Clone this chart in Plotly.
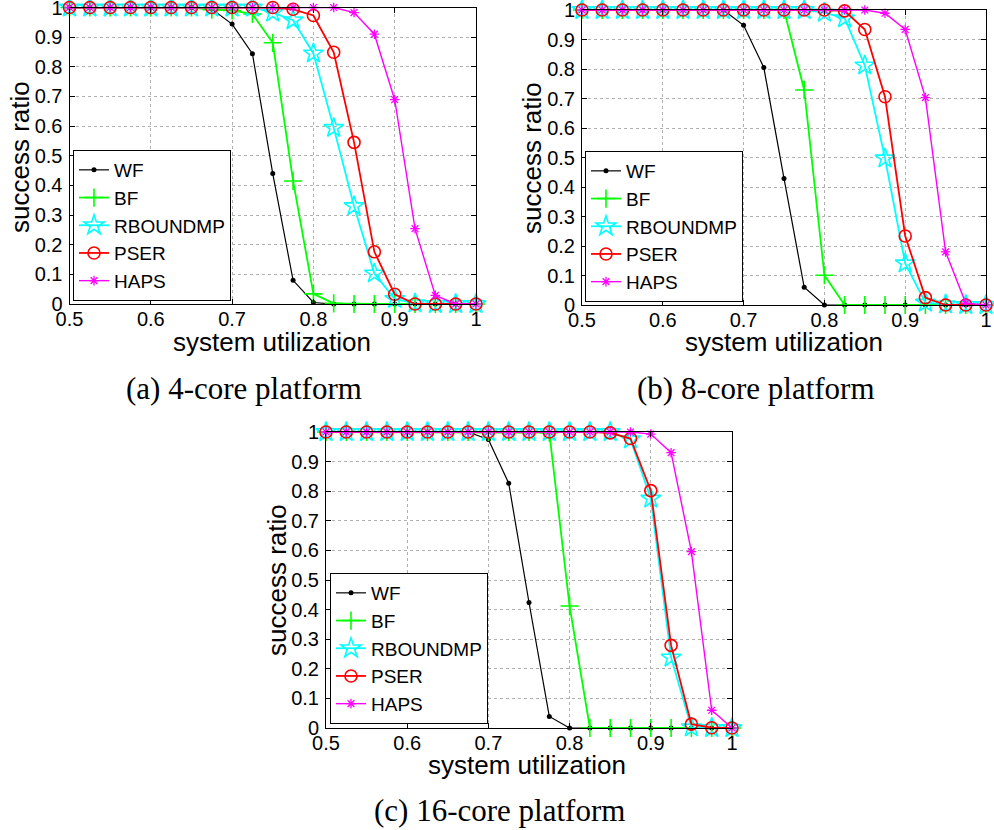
import plotly.graph_objects as go

W, H = 994, 830

utilization = [0.5, 0.525, 0.55, 0.575, 0.6, 0.625, 0.65, 0.675, 0.7, 0.725,
               0.75, 0.775, 0.8, 0.825, 0.85, 0.875, 0.9, 0.925, 0.95, 0.975, 1.0]

series_names = ["WF", "BF", "RBOUNDMP", "PSER", "HAPS"]

# (a) 4-core platform
wf_4 = [1, 1, 1, 1, 1, 1, 1, 0.995, 0.944, 0.844, 0.440, 0.080, 0.005, 0, 0, 0, 0, 0, 0, 0, 0]
bf_4 = [1, 1, 1, 1, 1, 1, 1, 0.993, 0.99, 0.978, 0.881, 0.415, 0.034, 0.002, 0, 0, 0, 0, 0, 0, 0]
rb_4 = [1, 1, 1, 1, 1, 1, 1, 1, 1, 1, 0.983, 0.957, 0.845, 0.594, 0.330, 0.103, 0.017, 0.002, 0, 0, 0]
ps_4 = [1, 1, 1, 1, 1, 1, 1, 1, 1, 1, 1, 0.994, 0.973, 0.849, 0.545, 0.176, 0.033, 0, 0, 0, 0]
ha_4 = [1, 1, 1, 1, 1, 1, 1, 1, 1, 1, 1, 1, 1, 1, 0.983, 0.910, 0.689, 0.254, 0.029, 0, 0]

# (b) 8-core platform
wf_8 = [1, 1, 1, 1, 1, 1, 1, 1, 0.948, 0.805, 0.429, 0.060, 0, 0, 0, 0, 0, 0, 0, 0, 0]
bf_8 = [1, 1, 1, 1, 1, 1, 1, 1, 1, 1, 1, 0.729, 0.101, 0, 0, 0, 0, 0, 0, 0, 0]
rb_8 = [1, 1, 1, 1, 1, 1, 1, 1, 1, 1, 1, 1, 0.991, 0.972, 0.812, 0.497, 0.141, 0.008, 0.002, 0, 0]
ps_8 = [1, 1, 1, 1, 1, 1, 1, 1, 1, 1, 1, 1, 1, 0.997, 0.934, 0.706, 0.234, 0.025, 0, 0, 0]
ha_8 = [1, 1, 1, 1, 1, 1, 1, 1, 1, 1, 1, 1, 1, 1, 1, 0.989, 0.934, 0.703, 0.180, 0.006, 0]

# (c) 16-core platform
wf_16 = [1, 1, 1, 1, 1, 1, 1, 1, 0.975, 0.827, 0.424, 0.039, 0, 0, 0, 0, 0, 0, 0, 0, 0]
bf_16 = [1, 1, 1, 1, 1, 1, 1, 1, 1, 1, 1, 0.998, 0.412, 0, 0, 0, 0, 0, 0, 0, 0]
rb_16 = [1, 1, 1, 1, 1, 1, 1, 1, 1, 1, 1, 1, 1, 1, 1, 0.975, 0.775, 0.238, 0.002, 0, 0]
ps_16 = [1, 1, 1, 1, 1, 1, 1, 1, 1, 1, 1, 1, 1, 1, 0.997, 0.978, 0.802, 0.279, 0.013, 0.001, 0]
ha_16 = [1, 1, 1, 1, 1, 1, 1, 1, 1, 1, 1, 1, 1, 1, 1, 1, 0.993, 0.930, 0.596, 0.060, 0]

x_ticks = [0.5, 0.6, 0.7, 0.8, 0.9, 1.0]
x_tick_labels = ["0.5", "0.6", "0.7", "0.8", "0.9", "1"]
y_ticks = [0, 0.1, 0.2, 0.3, 0.4, 0.5, 0.6, 0.7, 0.8, 0.9, 1.0]
y_tick_labels = ["0", "0.1", "0.2", "0.3", "0.4", "0.5", "0.6", "0.7", "0.8", "0.9", "1"]

captions = ["(a) 4-core platform", "(b) 8-core platform", "(c) 16-core platform"]
x_title = "system utilization"
y_title = "success ratio"

panels = [
    [wf_4, bf_4, rb_4, ps_4, ha_4],
    [wf_8, bf_8, rb_8, ps_8, ha_8],
    [wf_16, bf_16, rb_16, ps_16, ha_16],
]

styles = [
    dict(color="#000000", width=1.2, symbol="circle", size=5, mlw=0),
    dict(color="#00ff00", width=1.8, symbol="cross-thin-open", size=13, mlw=1.6),
    dict(color="#00ffff", width=1.8, symbol="star-open", size=15, mlw=1.6),
    dict(color="#ff0000", width=1.8, symbol="circle-open", size=12, mlw=1.6),
    dict(color="#ff00ff", width=1.4, symbol="asterisk-open", size=8, mlw=1.3),
]

# pixel boxes of the axes: (left, right, top, bottom)
boxes = [(69.5, 476, 7.5, 304), (582, 986, 10, 305), (326, 732, 432, 728)]
legend_bottom = [(73, 301), (585, 302), (330, 724)]
caption_pos = [(244, 388), (756, 388), (500, 810)]
xtitle_pos = [(272, 342), (784, 342), (527, 765)]
ytitle_pos = [(20, 157), (532, 158), (277, 580)]

SANS = "Liberation Sans, Arial, sans-serif"
SERIF = "Liberation Serif, Times New Roman, serif"

fig = go.Figure()
layout = dict(width=W, height=H, margin=dict(l=0, r=0, t=0, b=0, autoexpand=False),
              paper_bgcolor="white", plot_bgcolor="white", showlegend=True,
              annotations=[])

for p, (data, box) in enumerate(zip(panels, boxes)):
    sfx = "" if p == 0 else str(p + 1)
    lg = "legend" + sfx
    for name, ys, st in zip(series_names, data, styles):
        fig.add_trace(go.Scatter(
            x=utilization, y=ys, name=name, mode="lines+markers",
            xaxis="x" + sfx, yaxis="y" + sfx, legend=lg,
            line=dict(color=st["color"], width=st["width"]),
            marker=dict(symbol=st["symbol"], size=st["size"], color=st["color"],
                        line=dict(color=st["color"], width=st["mlw"])),
            cliponaxis=False,
        ))
    l, r, t, b = box
    common = dict(showline=True, linecolor="black", linewidth=1, mirror="ticks",
                  ticks="inside", ticklen=5, tickwidth=1, tickcolor="black",
                  showgrid=True, gridcolor="#b0b0b0", griddash="dot", gridwidth=1,
                  zeroline=False, automargin=False, ticklabeloverflow="allow",
                  tickfont=dict(family=SANS, size=20, color="black"))
    layout["xaxis" + sfx] = dict(
        domain=[l / W, r / W], range=[0.5, 1.0], anchor="y" + sfx,
        tickvals=x_ticks, ticktext=x_tick_labels, ticklabelstandoff=-3, **common)
    layout["yaxis" + sfx] = dict(
        domain=[1 - b / H, 1 - t / H], range=[0, 1.0], anchor="x" + sfx,
        tickvals=y_ticks, ticktext=y_tick_labels, ticklabelstandoff=2, **common)
    lx, ly = legend_bottom[p]
    layout[lg] = dict(x=lx / W, y=1 - ly / H, xanchor="left", yanchor="bottom",
                      bordercolor="black", borderwidth=1, bgcolor="white",
                      font=dict(family=SANS, size=19, color="black"),
                      tracegroupgap=0, itemwidth=30)
    tx, ty = xtitle_pos[p]
    layout["annotations"].append(dict(
        text=x_title, x=tx / W, y=1 - ty / H, xref="paper", yref="paper",
        xanchor="center", yanchor="middle", showarrow=False,
        font=dict(family=SANS, size=26, color="black")))
    vx, vy = ytitle_pos[p]
    layout["annotations"].append(dict(
        text=y_title, x=vx / W, y=1 - vy / H, xref="paper", yref="paper",
        xanchor="center", yanchor="middle", showarrow=False, textangle=-90,
        font=dict(family=SANS, size=26, color="black")))
    cx, cy = caption_pos[p]
    layout["annotations"].append(dict(
        text=captions[p], x=cx / W, y=1 - cy / H, xref="paper", yref="paper",
        xanchor="center", yanchor="middle", showarrow=False,
        font=dict(family=SERIF, size=31, color="black")))

fig.update_layout(**layout)
fig.write_html("out.html", config={"displayModeBar": False},
               post_script="document.body.style.margin='0';document.body.style.overflow='hidden';")
